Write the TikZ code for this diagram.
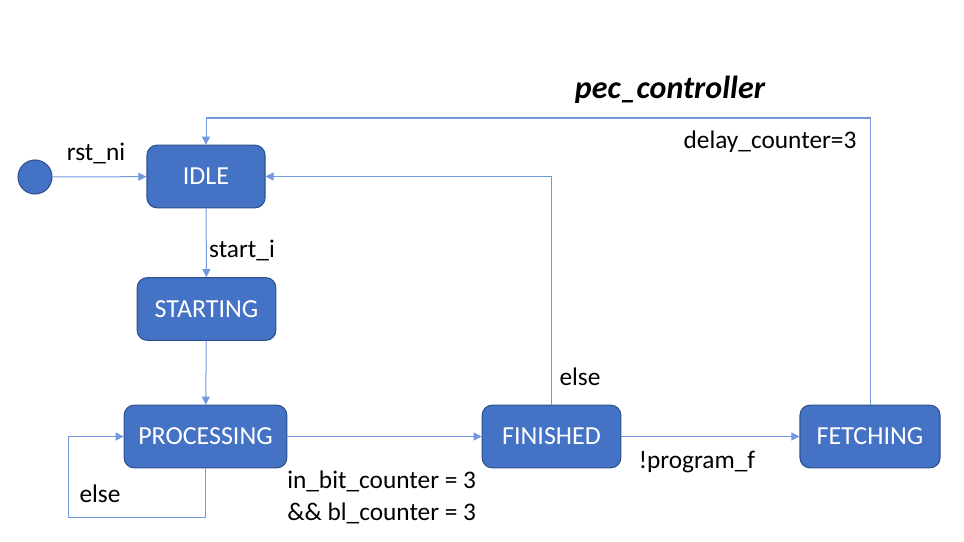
\documentclass[tikz,border=0pt]{standalone}
\usepackage{fontspec}
\setmainfont{Carlito}
\usetikzlibrary{arrows.meta}
\definecolor{stfill}{HTML}{4472C4}
\definecolor{stdraw}{HTML}{2F528F}
\definecolor{wire}{HTML}{7299DD}
\begin{document}
\begin{tikzpicture}[x=0.75pt,y=-0.75pt,
        state/.style={draw=stdraw,fill=stfill,rounded corners=7.5pt,line width=0.8pt,
            text=white,font=\fontsize{19.5}{23}\selectfont,minimum height=47pt,inner sep=0pt},
        arr/.style={draw=wire,line width=0.75pt,-{Triangle[length=6pt,width=6pt]}},
        lbl/.style={font=\fontsize{19}{23}\selectfont,text=black,inner sep=0pt}]
    \useasboundingbox[fill=white] (0,0) rectangle (964,542);
    \node[circle,draw=stdraw,fill=stfill,line width=0.8pt,minimum size=25.5pt,inner sep=0pt] (init) at (35,177) {};
    \node[state,minimum width=88.5pt] (idle) at (206,176.5) {IDLE};
    \node[state,minimum width=104pt] (starting) at (206.5,309) {STARTING};
    \node[state,minimum width=122pt] (processing) at (205.5,436.5) {PROCESSING};
    \node[state,minimum width=104pt] (finished) at (551.5,436.5) {FINISHED};
    \node[state,minimum width=105pt] (fetching) at (870,436.5) {FETCHING};
    \node[lbl,font=\fontsize{24}{28}\selectfont\bfseries\itshape] (title) at (670,90) {pec\_controller};

    \coordinate (loopL) at (68,517);
    \coordinate (topR) at (870,118);

    \draw[arr] (init) -- (idle);
    \draw[arr] (idle) -- (starting);
    \draw[arr] (starting) -- (processing);
    \draw[arr] (processing.south) |- (loopL) |- (processing.west);
    \draw[arr] (processing) -- (finished);
    \draw[arr] (finished.north) |- (idle.east);
    \draw[arr] (finished) -- (fetching);
    \draw[arr] (fetching.north) -- (topR) -| (idle.north);

    \node[lbl] (l1) at (96,153) {rst\_ni};
    \node[lbl] (l2) at (242,250) {start\_i};
    \node[lbl] (l3) at (100,494) {else};
    \node[lbl,anchor=west,align=left] (l4) at (287,497) {in\_bit\_counter = 3\\[1pt]\&\& bl\_counter = 3};
    \node[lbl] (l5) at (580,377) {else};
    \node[lbl] (l6) at (697,462) {!program\_f};
    \node[lbl] (l7) at (770,142) {delay\_counter=3};
\end{tikzpicture}
\end{document}
